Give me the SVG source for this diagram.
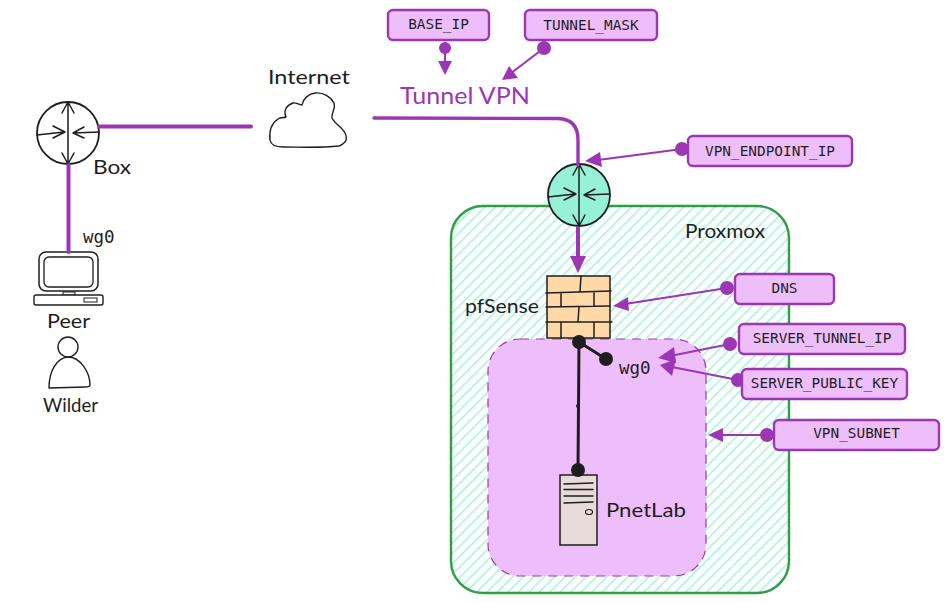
<svg xmlns="http://www.w3.org/2000/svg" width="949" height="603" viewBox="0 0 949 603">
<style>
.hand{font-family:"Lato","Liberation Sans",sans-serif;fill:#1e1e1e}
.mono{font-family:"DejaVu Sans Mono","Liberation Mono",monospace;fill:#1e1e1e}
.lbl{font-size:14.4px;text-anchor:middle}
.box{fill:#eebefa;stroke:#9c36b5;stroke-width:2.4}
.sk{fill:none;stroke:#1e1e1e;stroke-width:1.5;stroke-linecap:round;stroke-linejoin:round}
.bk{fill:none;stroke:#1e1e1e;stroke-width:3;stroke-linecap:round}
.pu{fill:none;stroke:#9c36b5;stroke-width:2.2;stroke-linecap:round}
.wire{fill:none;stroke:#9c36b5;stroke-width:4;stroke-linecap:round}
.dotp{fill:#9c36b5}
.dotk{fill:#1e1e1e}
</style>
<defs>
<pattern id="hatch" width="7.4" height="7.4" patternUnits="userSpaceOnUse" patternTransform="rotate(45)">
<rect x="0" y="0" width="1.5" height="7.4" fill="#a6f3dc"/>
</pattern>
<g id="routerIcon">
<path class="sk" d="M0,-31 L0,31 M-6,-20 L0,-31 L6,-20 M-6,20 L0,31 L6,20 M-31,2 L-4,-1 M-15,-7 L-3,-1 L-15,5 M31,-1 L5,0 M16,-6 L5,0 L16,5"/>
</g>
</defs>

<g id="proxmox">
<rect x="451" y="206" width="338" height="387" rx="32" fill="#fff"/>
<rect x="451" y="206" width="338" height="387" rx="32" fill="url(#hatch)" stroke="#2f9e44" stroke-width="2.4"/>
<text class="hand" x="685" y="238" font-size="19" textLength="80" lengthAdjust="spacingAndGlyphs">Proxmox</text>
</g>

<g id="wg0-zone">
<rect x="488" y="339" width="218" height="237" rx="32" fill="#eebefa" stroke="#9c36b5" stroke-width="1.2" stroke-dasharray="9 7"/>
<text class="mono" x="619" y="374" font-size="17.5">wg0</text>
</g>

<g id="box">
<circle cx="68" cy="133" r="31" fill="#fff" stroke="#1e1e1e" stroke-width="1.8"/>
<use href="#routerIcon" x="68" y="133"/>
<text class="hand" x="93" y="174" font-size="19" textLength="38" lengthAdjust="spacingAndGlyphs">Box</text>
</g>

<g id="gateway">
<circle cx="579" cy="195" r="31" fill="#96f2d7" stroke="#1e1e1e" stroke-width="1.8"/>
<use href="#routerIcon" x="579" y="195"/>
</g>

<g id="internet">
<path fill="#fff" stroke="#1e1e1e" stroke-width="1.4" stroke-linejoin="round" d="M270,140 C269,131 272,123 278,119 C281,117 284,118 286,117 C283,110 287,105 293,103 C296,102 299,105 302,105 C303,99 308,94 315,93 C323,92 331,97 334,103 C336,109 331,113 332,118 C335,124 342,127 345,133 C348,139 346,143 339,146 C320,148 300,147 283,147 C277,147 271,146 270,140 Z"/>
<text class="hand" x="268" y="84" font-size="19" textLength="82" lengthAdjust="spacingAndGlyphs">Internet</text>
</g>

<g id="peer">
<rect x="39" y="252" width="59" height="39" rx="7" fill="#fff" stroke="#1e1e1e" stroke-width="1.5"/>
<rect x="44" y="257" width="49" height="30" rx="5" fill="#fff" stroke="#1e1e1e" stroke-width="1.3"/>
<rect x="63" y="292" width="12" height="3" fill="#fff" stroke="#1e1e1e" stroke-width="1"/>
<rect x="34" y="295" width="69" height="10" rx="2" fill="#fff" stroke="#1e1e1e" stroke-width="1.4"/>
<rect x="84" y="298" width="13" height="4" fill="#fff" stroke="#1e1e1e" stroke-width="1"/>
<text class="mono" x="83" y="243" font-size="17.5">wg0</text>
<text class="hand" x="47" y="328" font-size="19" textLength="43" lengthAdjust="spacingAndGlyphs">Peer</text>
</g>

<g id="wilder">
<circle cx="68" cy="347" r="10" fill="#fff" stroke="#1e1e1e" stroke-width="1.4"/>
<path fill="#fff" stroke="#1e1e1e" stroke-width="1.4" stroke-linejoin="round" d="M49,388 C49,372 56,358 68,357 C80,357 90,372 90,385 C90,387 88,387 85,387 Z"/>
<text class="hand" x="43" y="412" font-size="19" textLength="55" lengthAdjust="spacingAndGlyphs">Wilder</text>
</g>

<g id="pfsense">
<rect x="547" y="276" width="63" height="62" fill="#ffd8a8" stroke="#1e1e1e" stroke-width="1.5"/>
<path class="sk" d="M546,293 L611,291 M546,307 L610,306 M546,322 L612,322 M581,276 L580,291 M561,293 L561,307 M594,292 L594,306 M579,307 L578,322 M561,322 L561,338 M594,322 L594,337"/>
<text class="hand" x="465" y="313" font-size="19" textLength="74" lengthAdjust="spacingAndGlyphs">pfSense</text>
</g>

<g id="pnetlab">
<rect x="560" y="475" width="37" height="70" fill="#e6dbd8" stroke="#1e1e1e" stroke-width="1.5"/>
<path class="sk" d="M564,484 L593,483 M564,489.500 L593,489.500 M564,496 L593,496 M564,503 L593,502"/>
<ellipse cx="589" cy="512" rx="3.500" ry="2.500" fill="none" stroke="#1e1e1e" stroke-width="1.200"/>
<text class="hand" x="606" y="517" font-size="19" textLength="80" lengthAdjust="spacingAndGlyphs">PnetLab</text>
</g>

<g id="tunnel-vpn">
<text x="400" y="104" font-family="Lato,'Liberation Sans',sans-serif" font-size="23" fill="#9c36b5" textLength="130" lengthAdjust="spacingAndGlyphs">Tunnel VPN</text>
</g>

<g id="connectors">
<path class="wire" d="M99,126.500 L251,126.500"/>
<path class="wire" d="M68.500,165 L68.500,252"/>
<path class="wire" style="stroke-width:3.4" d="M374,118 L558,118.500 Q578,119 578,140 L578,165"/>
<path class="wire" d="M578,228 L578,262"/>
<polygon class="dotp" points="570,256 586,256 578,273"/>
<circle class="dotp" cx="445" cy="48" r="6"/>
<path class="pu" d="M445,48 L445,64"/>
<polygon class="dotp" points="438,61 452,61 445,75"/>
<circle class="dotp" cx="544" cy="48" r="7"/>
<path class="pu" d="M544,48 L510,74"/>
<polygon class="dotp" points="502,80 509,66 518,78"/>
<circle class="dotp" cx="682" cy="149" r="7"/>
<path class="pu" d="M682,149 L598,160"/>
<polygon class="dotp" points="585,161 600,152 602,167"/>
<circle class="dotp" cx="727" cy="288" r="7"/>
<path class="pu" d="M727,288 L625,304"/>
<polygon class="dotp" points="613,306 628,297 629,311"/>
<circle class="dotp" cx="730" cy="344" r="7"/>
<path class="pu" d="M730,344 L670,356"/>
<polygon class="dotp" points="658,358 674,347 676,363"/>
<circle class="dotp" cx="738" cy="380" r="7"/>
<path class="pu" d="M738,380 L672,367"/>
<polygon class="dotp" points="660,365 676,359 672,376"/>
<circle class="dotp" cx="767" cy="435" r="7"/>
<path class="pu" d="M767,435 L720,435"/>
<polygon class="dotp" points="708,435 723,428 723,442"/>
<path class="bk" d="M579,342 L606,359"/>
<path class="bk" d="M579,342 L578,470"/>
<circle class="dotk" cx="579" cy="342" r="7"/>
<circle class="dotk" cx="606" cy="359" r="7"/>
<circle class="dotk" cx="578" cy="406" r="2"/>
<circle class="dotk" cx="578" cy="470" r="7"/>
</g>

<g id="base-ip"><rect class="box" x="388" y="10" width="101" height="30" rx="5"/><text class="mono lbl" x="438.500" y="29">BASE_IP</text></g>
<g id="tunnel-mask"><rect class="box" x="525" y="10" width="132" height="30" rx="5"/><text class="mono lbl" x="591" y="30">TUNNEL_MASK</text></g>
<g id="vpn-endpoint-ip"><rect class="box" x="688" y="136" width="164" height="30" rx="5"/><text class="mono lbl" x="770" y="156">VPN_ENDPOINT_IP</text></g>
<g id="dns"><rect class="box" x="735" y="274" width="99" height="30" rx="5"/><text class="mono lbl" x="784.500" y="293">DNS</text></g>
<g id="server-tunnel-ip"><rect class="box" x="739" y="324" width="166" height="30" rx="5"/><text class="mono lbl" x="822" y="343">SERVER_TUNNEL_IP</text></g>
<g id="server-public-key"><rect class="box" x="742" y="369" width="165" height="30" rx="5"/><text class="mono lbl" x="824.500" y="388">SERVER_PUBLIC_KEY</text></g>
<g id="vpn-subnet"><rect class="box" x="774" y="420" width="165" height="30" rx="5"/><text class="mono lbl" x="856.500" y="438">VPN_SUBNET</text></g>
</svg>
